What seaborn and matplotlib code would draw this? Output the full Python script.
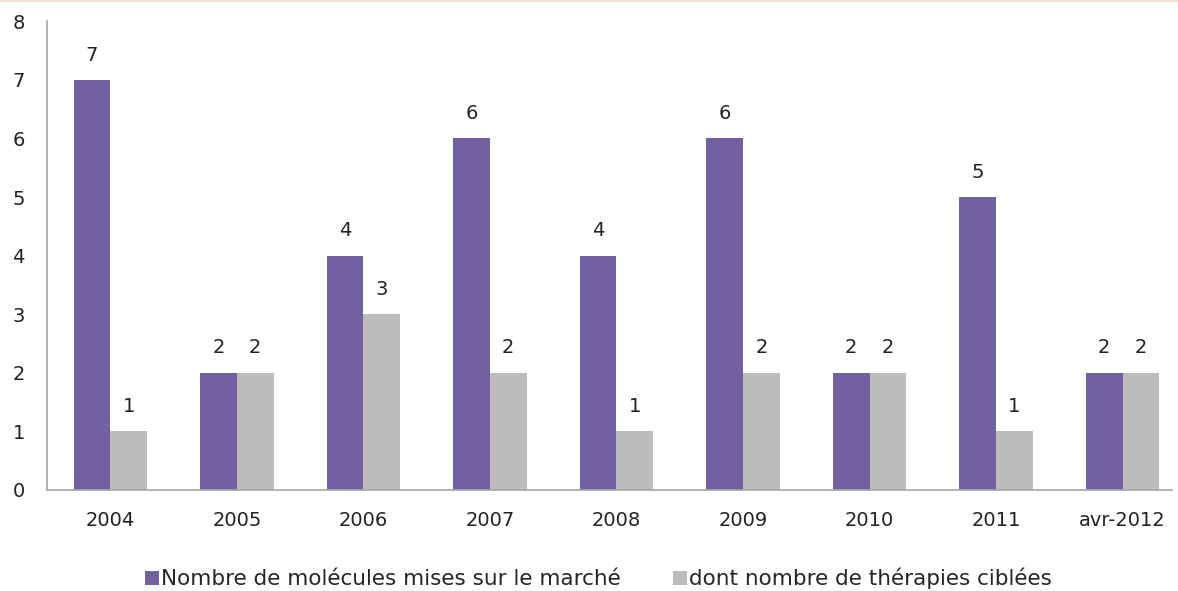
import numpy as np
import pandas as pd
import matplotlib
matplotlib.use("Agg")
import matplotlib.pyplot as plt
import seaborn as sns

years = ['2004', '2005', '2006', '2007', '2008', '2009', '2010', '2011', 'avr-2012']
molecules = [7, 2, 4, 6, 4, 6, 2, 5, 2]
therapies = [1, 2, 3, 2, 1, 2, 2, 1, 2]
series_names = ['Nombre de molécules mises sur le marché',
                'dont nombre de thérapies ciblées']
colors = ['#7062a0', '#bdbcba']

df = pd.DataFrame({
    'year': years * 2,
    'value': molecules + therapies,
    'serie': [series_names[0]] * len(years) + [series_names[1]] * len(years),
})

sns.set_style('white')
plt.rcParams['font.family'] = ['DejaVu Sans']

fig = plt.figure(figsize=(11.78, 5.91), dpi=100)
ax = fig.add_axes([0.0399, 0.171, 0.955, 0.793])
sns.barplot(data=df, x='year', y='value', hue='serie', palette=colors,
            width=0.58, gap=0, saturation=1, linewidth=0, ax=ax, legend=True)

for cont in ax.containers:
    ax.bar_label(cont, fmt='%d', padding=11, fontsize=14, color='#222222')

ax.set_xlim(-0.5, 8.39)
ax.set_ylim(0, 8)
ax.set_yticks(range(0, 9))
ax.set_xlabel('')
ax.set_ylabel('')
ax.tick_params(axis='both', length=0, labelsize=14, colors='#222222')
ax.tick_params(axis='y', pad=16)
ax.tick_params(axis='x', pad=15)
sns.despine(ax=ax, top=True, right=True)
for sp in ['left', 'bottom']:
    ax.spines[sp].set_color('#a6a6a6')
    ax.spines[sp].set_linewidth(1.2)

ax.legend(loc='upper center', bbox_to_anchor=(0.49, -0.125), ncol=2,
          frameon=False, fontsize=15.5, handlelength=0.65, handleheight=0.65,
          handletextpad=0.1, columnspacing=2.4)

fig.add_artist(plt.Line2D([0, 1], [0.998, 0.998], color='#f0ddd3', lw=1.5))
fig.savefig('out.png', dpi=100)
